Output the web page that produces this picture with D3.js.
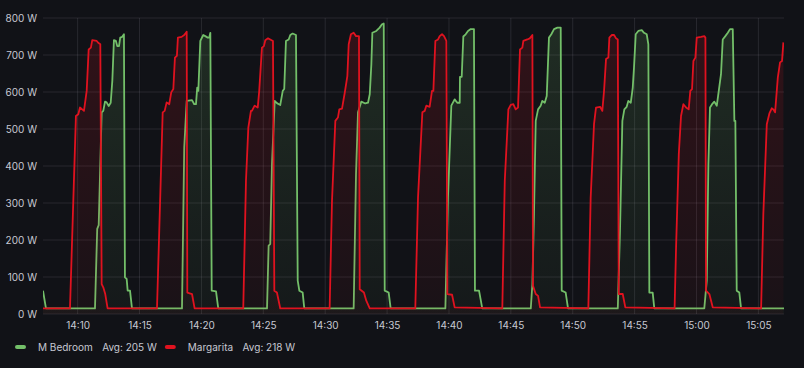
<!DOCTYPE html>
<meta charset="utf-8">
<script src="https://d3js.org/d3.v7.min.js"></script>
<style>
  body { margin: 0; background: #111217; }
  text { font-family: Inter, "Noto Sans", sans-serif; }
</style>
<div id="chart"></div>
<script>

// series: [minutes after 14:00, watts]
var mBedroom = [
  [7.20, 63], [7.44, 15],
  [11.40, 15], [11.58, 230], [11.70, 240], [11.94, 545], [12.07, 549], [12.21, 574], [12.34, 572], [12.51, 562],
  [12.67, 571], [12.80, 630], [12.93, 740], [13.09, 738], [13.20, 724], [13.34, 724], [13.44, 747], [13.60, 749],
  [13.74, 756], [13.82, 99], [13.96, 95], [14.04, 63], [14.23, 63], [14.39, 15],
  [18.43, 15], [18.61, 450], [18.81, 576], [19.24, 578], [19.42, 567], [19.56, 567], [19.66, 612], [19.75, 603],
  [19.91, 738], [20.15, 754], [20.31, 751], [20.51, 747], [20.63, 747], [20.72, 760], [20.83, 63], [21.18, 61], [21.36, 15],
  [25.30, 15], [25.43, 185], [25.56, 189], [25.70, 405], [25.92, 576], [26.10, 570], [26.37, 565], [26.57, 603],
  [26.69, 608], [26.83, 738], [27.05, 742], [27.18, 754], [27.37, 758], [27.64, 754], [27.78, 90], [27.91, 63],
  [28.18, 58], [28.31, 15],
  [32.30, 15], [32.49, 378], [32.65, 545], [32.92, 574], [33.24, 569], [33.46, 571], [33.60, 594], [33.73, 675],
  [33.81, 760], [34.13, 765], [34.40, 774], [34.59, 783], [34.73, 785], [34.81, 63], [35.13, 58], [35.29, 15],
  [39.71, 15], [39.92, 315], [40.19, 563], [40.46, 580], [40.67, 571], [40.87, 571], [40.89, 641], [41.03, 641],
  [41.16, 750], [41.35, 756], [41.54, 765], [41.76, 770], [42.02, 770], [42.10, 63], [42.43, 63], [42.69, 15],
  [46.61, 15], [46.74, 81], [46.87, 270], [47.01, 522], [47.20, 553], [47.41, 563], [47.54, 576], [47.74, 571],
  [47.90, 589], [48.08, 747], [48.27, 756], [48.49, 770], [48.76, 774], [49.03, 774], [49.11, 63], [49.43, 58], [49.62, 15],
  [53.64, 15], [53.82, 225], [54.01, 522], [54.17, 553], [54.36, 560], [54.49, 576], [54.69, 571], [54.85, 612],
  [54.95, 666], [55.09, 756], [55.30, 765], [55.58, 767], [55.76, 760], [55.98, 756], [56.11, 729], [56.19, 58],
  [56.46, 58], [56.59, 15],
  [60.63, 15], [60.83, 90], [60.96, 405], [61.09, 558], [61.26, 567], [61.44, 574], [61.64, 563], [61.80, 603],
  [61.98, 648], [62.12, 742], [62.33, 751], [62.53, 760], [62.71, 770], [62.93, 770], [63.06, 522], [63.14, 522],
  [63.25, 63], [63.46, 58], [63.60, 15], [67.07, 15]
];

var margarita = [
  [7.20, 15],
  [9.38, 15], [9.86, 535], [10.05, 540], [10.19, 558], [10.37, 553], [10.51, 549], [10.73, 603], [10.89, 715],
  [11.07, 720], [11.18, 740], [11.54, 738], [11.66, 733], [11.83, 729], [11.94, 81], [12.07, 72], [12.23, 54], [12.42, 15],
  [16.41, 15], [16.87, 545], [17.03, 549], [17.19, 572], [17.40, 567], [17.56, 599], [17.73, 608], [17.86, 693],
  [18.02, 698], [18.10, 747], [18.40, 749], [18.61, 754], [18.81, 763], [18.86, 58], [19.24, 54], [19.45, 15],
  [23.38, 15], [23.60, 360], [23.79, 504], [24.00, 549], [24.08, 549], [24.30, 563], [24.55, 558], [24.67, 603],
  [24.89, 720], [25.05, 724], [25.16, 740], [25.38, 745], [25.56, 742], [25.78, 738], [25.89, 63], [26.10, 58], [26.37, 15],
  [30.36, 15], [30.55, 306], [30.82, 522], [31.03, 531], [31.14, 553], [31.36, 555], [31.58, 598], [31.79, 643],
  [31.90, 729], [32.08, 756], [32.30, 760], [32.49, 751], [32.73, 751], [32.79, 67], [33.13, 58], [33.32, 36], [33.60, 15],
  [37.28, 15], [37.50, 315], [37.85, 545], [38.04, 549], [38.17, 563], [38.44, 560], [38.63, 603], [38.74, 603],
  [38.90, 738], [39.12, 742], [39.25, 751], [39.44, 756], [39.60, 751], [39.79, 738], [39.87, 54], [40.25, 52], [40.46, 18],
  [44.31, 15], [44.51, 360], [44.80, 553], [44.99, 565], [45.20, 567], [45.39, 553], [45.58, 558], [45.74, 715],
  [45.93, 720], [46.01, 738], [46.33, 742], [46.53, 745], [46.74, 754], [46.79, 76], [47.01, 54], [47.20, 49], [47.36, 18],
  [51.26, 15], [51.45, 315], [51.72, 513], [51.88, 558], [52.21, 560], [52.39, 549], [52.53, 603], [52.69, 689],
  [52.88, 693], [52.96, 747], [53.15, 754], [53.34, 754], [53.50, 745], [53.64, 742], [53.72, 54], [54.04, 54], [54.25, 18],
  [58.23, 15], [58.35, 180], [58.57, 432], [58.75, 535], [58.94, 567], [59.16, 558], [59.37, 553], [59.50, 603],
  [59.64, 608], [59.75, 684], [59.91, 693], [60.02, 747], [60.37, 749], [60.63, 751], [60.72, 747], [60.77, 63],
  [61.04, 54], [61.31, 18],
  [65.22, 15], [65.40, 270], [65.68, 513], [65.89, 542], [66.08, 556], [66.21, 553], [66.35, 545], [66.57, 639],
  [66.75, 680], [66.91, 684], [67.02, 734]
];

var seriesNames = ["M Bedroom", "Margarita"];
var seriesAvg = ["Avg: 205 W", "Avg: 218 W"];
var seriesColors = ["#73BF69", "#E0121F"];
var yTicks = [0, 100, 200, 300, 400, 500, 600, 700, 800];
var timeStart = 7.2, timeEnd = 67.07;

var margin = {top: 18, right: 20, bottom: 54, left: 43},
  width = 804 - margin.left - margin.right,
  height = 368 - margin.top - margin.bottom;

var base = new Date(2024, 0, 1, 14, 0, 0);
function toDate(m) { return new Date(base.getTime() + m * 60000); }

var svg = d3.select("#chart")
  .append("svg")
  .attr("width", 804)
  .attr("height", 368);

var g = svg.append("g")
  .attr("transform", "translate(" + margin.left + "," + margin.top + ")");

var x = d3.scaleTime()
  .domain([toDate(timeStart), toDate(timeEnd)])
  .range([0, width]);

var y = d3.scaleLinear()
  .domain([0, 800])
  .range([height, 0]);

// grid
g.append("g")
  .selectAll("line")
  .data(yTicks)
  .enter().append("line")
  .attr("x1", 0).attr("x2", width)
  .attr("y1", function(d) { return y(d); })
  .attr("y2", function(d) { return y(d); })
  .style("stroke", "rgba(204,204,220,0.12)");

var xTicks = x.ticks(d3.timeMinute.every(5));
g.append("g")
  .selectAll("line")
  .data(xTicks)
  .enter().append("line")
  .attr("x1", function(d) { return x(d); })
  .attr("x2", function(d) { return x(d); })
  .attr("y1", 0).attr("y2", height)
  .style("stroke", "rgba(204,204,220,0.12)");

// axes labels
var yAxis = g.append("g")
  .call(d3.axisLeft(y).tickValues(yTicks).tickSize(0).tickPadding(6)
    .tickFormat(function(d) { return d + " W"; }));
yAxis.select(".domain").remove();
yAxis.selectAll("text")
  .attr("font-family", "Inter")
  .attr("font-size", "10px")
  .attr("fill", "#c7c8d2");

var xAxis = g.append("g")
  .attr("transform", "translate(0," + height + ")")
  .call(d3.axisBottom(x).tickValues(xTicks).tickSize(0).tickPadding(8)
    .tickFormat(d3.timeFormat("%H:%M")));
xAxis.select(".domain").remove();
xAxis.selectAll("text")
  .attr("font-family", "Inter")
  .attr("font-size", "10px")
  .attr("fill", "#c7c8d2");

// clip
g.append("clipPath").attr("id", "clip")
  .append("rect").attr("width", width).attr("height", height);

var defs = svg.append("defs");
seriesColors.forEach(function(c, i) {
  var grad = defs.append("linearGradient")
    .attr("id", "grad" + i)
    .attr("gradientUnits", "userSpaceOnUse")
    .attr("x1", 0).attr("x2", 0)
    .attr("y1", y(800)).attr("y2", y(0));
  grad.append("stop").attr("offset", "0%").attr("stop-color", c).attr("stop-opacity", 0.16);
  grad.append("stop").attr("offset", "100%").attr("stop-color", c).attr("stop-opacity", 0.04);
});

var area = d3.area()
  .x(function(d) { return x(toDate(d[0])); })
  .y0(height)
  .y1(function(d) { return y(d[1]); });

var line = d3.line()
  .x(function(d) { return x(toDate(d[0])); })
  .y(function(d) { return y(d[1]); });

var plot = g.append("g").attr("clip-path", "url(#clip)");

[mBedroom, margarita].forEach(function(s, i) {
  plot.append("path")
    .datum(s)
    .attr("d", area)
    .style("fill", "url(#grad" + i + ")");
  plot.append("path")
    .datum(s)
    .attr("d", line)
    .style("fill", "none")
    .style("stroke", seriesColors[i])
    .style("stroke-width", 1.8)
    .style("stroke-linejoin", "round");
});

// legend
var legend = svg.append("g").attr("transform", "translate(15,347)");
var lx = 0;
seriesNames.forEach(function(name, i) {
  legend.append("rect")
    .attr("x", lx).attr("y", -2)
    .attr("width", 11).attr("height", 4)
    .attr("rx", 2)
    .style("fill", seriesColors[i]);
  lx += 23;
  var t1 = legend.append("text")
    .attr("x", lx).attr("y", 4)
    .attr("font-size", "10px")
    .attr("fill", "#c7c8d2")
    .text(name);
  lx += t1.node().getComputedTextLength() + 9.5;
  var t2 = legend.append("text")
    .attr("x", lx).attr("y", 4)
    .attr("font-size", "10px")
    .attr("fill", "#c7c8d2")
    .text(seriesAvg[i]);
  lx += t2.node().getComputedTextLength() + 8;
});

</script>
